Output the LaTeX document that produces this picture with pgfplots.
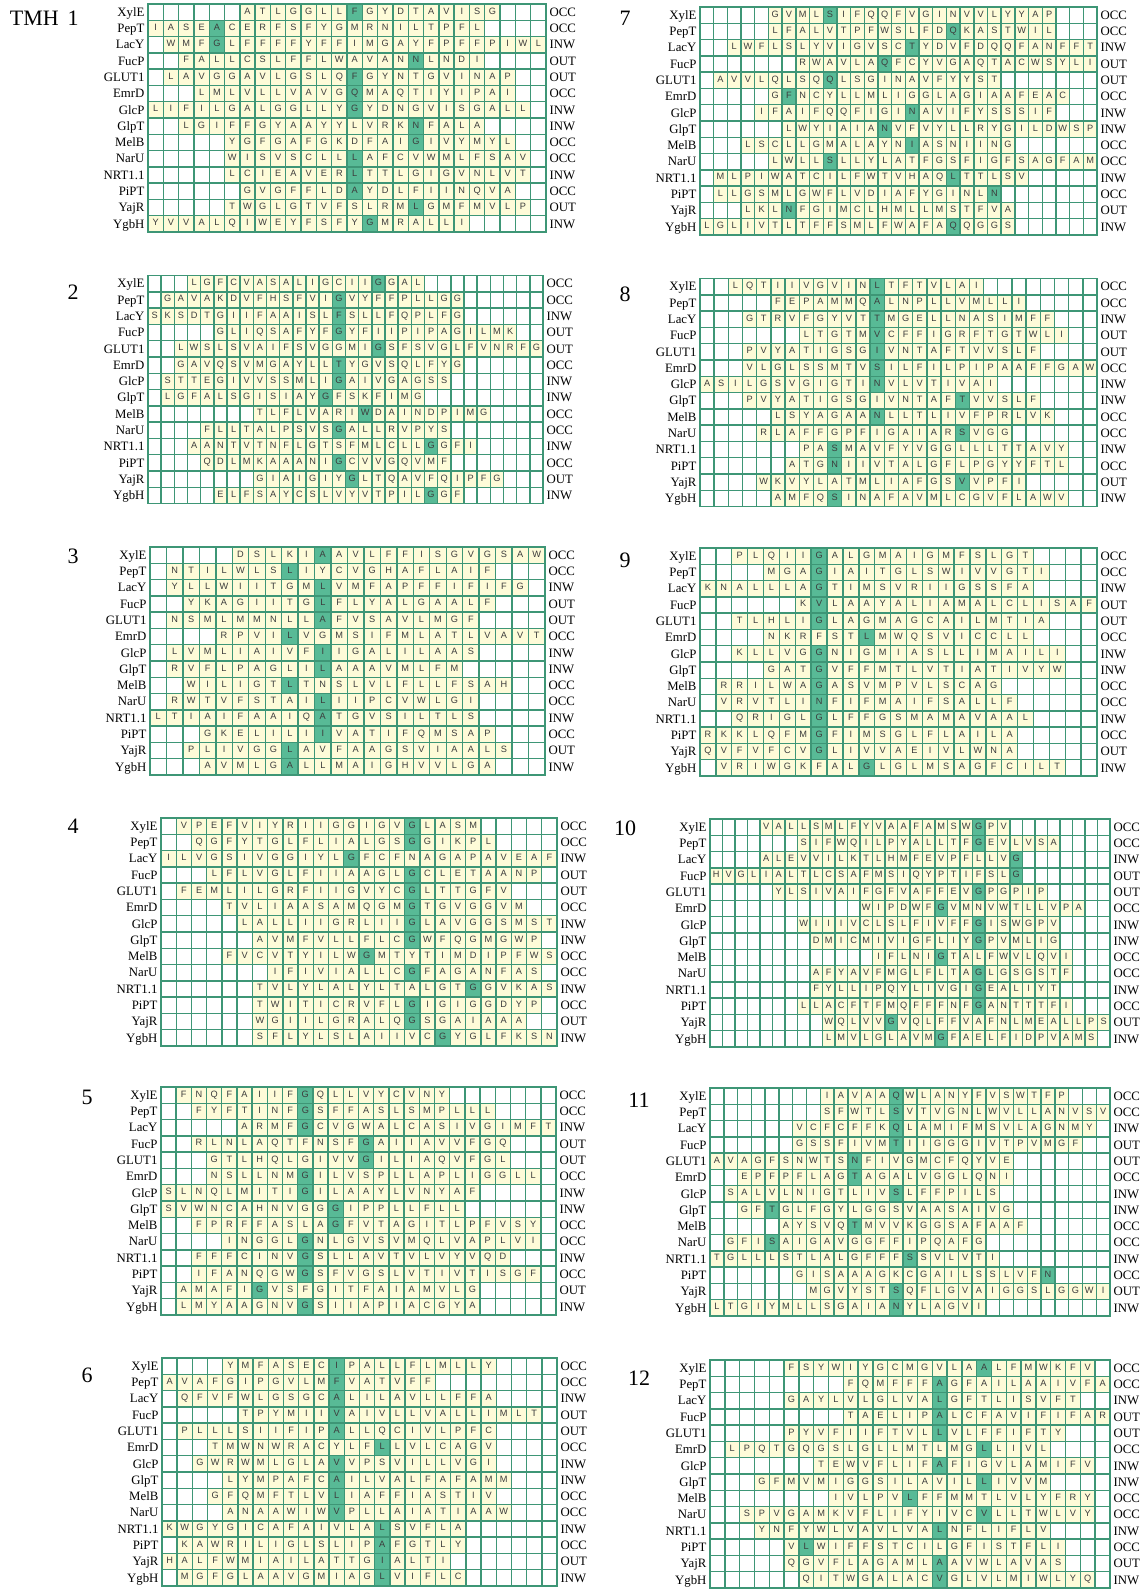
\documentclass[border=0pt]{standalone}
\usepackage{fontspec}
\setmainfont{Liberation Serif}
\newfontfamily\cellfam{Liberation Sans}
\usepackage{pgfplots}
\usepackage{pgfplotstable}
\pgfplotsset{compat=1.18}
\definecolor{cream}{RGB}{254,251,216}
\definecolor{gcell}{RGB}{88,186,150}
\definecolor{gline}{RGB}{62,150,118}
\definecolor{lett}{RGB}{60,60,60}
\newcommand\cellfont{\cellfam\fontsize{4.6pt}{5pt}\selectfont}
\newcommand\labfont{\fontsize{6.4pt}{7pt}\selectfont}
\newcommand\ttlfont{\fontsize{11pt}{13pt}\selectfont}
\def\spread#1{\ifx\relax#1\else\makebox[\cw pt][c]{#1}\expandafter\spread\fi}
\newcommand\letters{\edef\tmpseq{\pgfplotspointmeta}\smash{\raisebox{-1.65pt}{\expandafter\spread\tmpseq\relax}}}

\pgfplotstableread{
r s e g seq
1 7 23 14 ATLGGLLFGYDTAVISG
2 1 22 5 IASEACERFSFYGMRNILTPFL
3 2 26 5 WMFGLFFFFYFFIMGAYFPFFPIWL
4 3 22 18 FALLCSLFFLWAVANNLNDI
5 2 24 14 LAVGGAVLGSLQFGYNTGVINAP
6 4 24 14 LMLVLLVAVGQMAQTIYIPAI
7 1 25 14 LIFILGALGGLLYGYDNGVISGALL
8 3 22 18 LGIFFGYAAYYLVRKNFALA
9 6 24 18 YGFGAFGKDFAIGIVYMYL
10 6 25 14 WISVSCLLLAFCVWMLFSAV
11 6 25 14 LCIEAVERLTTLGIGVNLVT
12 7 24 14 GVGFFLDAYDLFIINQVA
13 6 25 18 TWGLGTVFSLRMLGMFMVLP
14 1 21 15 YVVALQIWEYFSFYGMRALLI
}\tabA
\pgfplotstableread{
r s e g seq
1 4 21 18 LGFCVASALIGCIIGGAL
2 2 24 15 GAVAKDVFHSFVIGVYFFPLLGG
3 1 24 15 SKSDTGIIFAAISLFSLLFQPLFG
4 6 28 15 GLIQSAFYFGYFIIPIPAGILMK
5 3 30 18 LWSLSVAIFSVGGMIGSFSVGLFVNRFG
6 3 24 15 GAVQSVMGAYLLTYGVSQLFYG
7 2 23 15 STTEGIVVSSMLIGAIVGAGSS
8 2 21 14 LGFALSGISIAYGFSKFIMG
9 9 26 17 TLFLVARIWDAINDPIMG
10 5 23 15 FLLTALPSVSGALLRVPYS
11 4 25 22 AANTVTNFLGTSFMLCLLGGFI
12 5 23 15 QDLMKAAANIGCVVGQVMF
13 9 27 16 GIAIGIYGLTQAVFQIPFG
14 6 24 22 ELFSAYCSLVYVTPILGGF
}\tabB
\pgfplotstableread{
r s e g seq
1 6 24 11 DSLKIAAVLFFISGVGSAW
2 2 21 9 NTILWLSLIYCVGHAFLAIF
3 2 23 11 YLLWIITGMLVMFAPFFIFIFG
4 3 21 11 YKAGIITGLFLYALGAALF
5 2 20 11 NSMLMMNLLAFVSAVLMGF
6 5 24 9 RPVILVGMSIFMLATLVAVT
7 2 20 11 LVMLIAIVFIIGALILAAS
8 2 19 11 RVFLPAGLILAAAVMLFM
9 3 22 9 WILIGTLTNSLVLFLLFSAH
10 2 20 11 RWTVFSTAILIIPCVWLGI
11 1 20 11 LTIAIFAAIQATGVSILTLS
12 4 21 11 GKELILIIVATIFQMSAP
13 3 22 9 PLIVGGLAVFAAGSVIAALS
14 4 21 9 AVMLGALLMAIGHVVLGA
}\tabC
\pgfplotstableread{
r s e g seq
1 2 21 17 VPEFVIYRIIGGIGVGLASM
2 3 22 17 QGFYTGLFLIALGSGGIKPL
3 1 26 13 ILVGSIVGGIYLGFCFNAGAPAVEAF
4 4 25 17 LFLVGLFIIAAGLGCLETAANP
5 2 23 17 FEMLILGRFIIGVYCGLTTGFV
6 5 24 17 TVLIAASAMQGMGTGVGGVM
7 6 26 17 LALLIIGRLIIGLAVGGSMST
8 7 25 17 AVMFVLLFLCGWFQGMGWP
9 5 26 14 FVCVTYILWGMTYTIMDIPFWS
10 8 25 17 IFIVIALLCGFAGANFAS
11 7 26 21 TVLYLALYLTALGTGGVKAS
12 7 25 17 TWITICRVFLGIGIGGDYP
13 7 24 17 WGIILGRALQGSGAIAAA
14 7 26 19 SFLYLSLAIIVCGYGLFKSN
}\tabD
\pgfplotstableread{
r s e g seq
1 2 19 10 FNQFAIIFGQLLVYCVNY
2 3 22 10 FYFTINFGSFFASLSMPLLL
3 6 26 10 ARMFGCVGWALCASIVGIMFT
4 3 23 14 RLNLAQTFNSFGAIIAVVFGQ
5 4 23 14 GTLHQLGIVVGILIAQVFGL
6 4 25 10 NSLLNMGILVSPLLAPLIGGLL
7 1 21 10 SLNQLMITIGILAAYLVNYAF
8 1 20 12 SVWNCAHNVGGGIPPLLFLL
9 3 25 12 FPRFFASLAGFVTAGITLPFVSY
10 5 25 10 INGGLGNLGVSVMQLVAPLVI
11 3 23 10 FFFCINVGSLLAVTVLVYVQD
12 3 25 10 IFANQGWGSFVGSLVTIVTISGF
13 2 21 7 AMAFIGVSFGITFAIAMVLG
14 2 21 10 LMYAAGNVGSIIAPIACGYA
}\tabE
\pgfplotstableread{
r s e g seq
1 5 22 12 YMFASECIPALLFLMLLY
2 1 18 12 AVAFGIPGVLMFVATVFF
3 2 22 12 QFVFWLGSGCALILAVLLFFA
4 6 25 12 TPYMIIVAIVLLVALLIMLT
5 2 22 12 PLLLSIIFIPALLQCIVLPFC
6 4 22 15 TMWNWRACYLFLLVLCAGV
7 3 22 12 GWRWMLGLAVVPSVILLVGI
8 5 23 12 LYMPAFCAILVALFAFAMM
9 4 22 12 GFQMFTLVLIAFFIASTIV
10 5 23 12 ANAAWIWVPLLAIATIAAW
11 1 20 15 KWGYGICAFAIVLALSVFLA
12 2 20 15 KAWRILIGLSLIPAFGTLY
13 1 19 15 HALFWMIAILATTGIALTI
14 2 20 15 MGFGLAAVGMIAGLVIFLC
}\tabF
\pgfplotstableread{
r s e g seq
1 6 26 10 GVMLSIFQQFVGINVVLYYAP
2 6 26 19 LFALVTPFWSLFDQKASTWIL
3 3 29 16 LWFLSLYVIGVSCTYDVFDQQFANFFT
4 8 29 14 RWAVLAQFCYVGAQTACWSYLI
5 2 22 10 AVVLQLSQQLSGINAVFYYST
6 6 27 7 GFNCYLLMLIGGLAGIAAFEAC
7 5 26 16 IFAIFQQFIGINAVIFYSSSIF
8 7 29 14 LWYIAIANVFVYLLRYGILDWSP
9 4 23 16 LSCLLGMALAYNIASNIING
10 6 29 10 LWLLSLLYLATFGSFIGFSAGFAM
11 2 24 19 MLPIWATCILFWTVHAQLTTLSV
12 2 22 22 LLGSMLGWFLVDIAFYGINLN
13 4 23 7 LKLNFGIMCLHMLLMSTFVA
14 1 23 19 LGLIVTLTFFSMLFWAFAQQGGS
}\tabG
\pgfplotstableread{
r s e g seq
1 3 20 13 LQTIIVGVINLTFTVLAI
2 6 23 13 FEPAMMQALNPLLVMLLI
3 4 25 13 GTRVFGYVTTMGELLNASIMFF
4 8 26 13 LTGTMVCFFIGRFTGTWLI
5 4 24 13 PVYATIGSGIVNTAFTVVSLF
6 4 28 13 VLGLSSMTVSILFILPIPAAFFGAW
7 1 21 13 ASILGSVGIGTINVLVTIVAI
8 4 24 19 PVYATIGSGIVNTAFTVVSLF
9 6 25 13 LSYAGAANLLTLIVFPRLVK
10 5 22 19 RLAFFGPFIGAIARSVGG
11 8 26 10 PASMAVFYVGGLLLTTAVY
12 7 26 10 ATGNIIVTALGFLPGYYFTL
13 5 23 19 WKVYLATMLIAFGSVVPFI
14 6 26 10 AMFQSINAFAVMLCGVFLAWV
}\tabH
\pgfplotstableread{
r s e g seq
1 3 21 8 PLQIIGALGMAIGMFSLGT
2 5 22 8 MGAGIAITGLSWIVVGTI
3 1 21 8 KNALLLAGTIMSVRIIGSSFA
4 7 25 8 KVLAAYALIAMALCLISAF
5 3 22 8 TLHLIGLAGMAGCAILMTIA
6 5 21 11 NKRFSTLMWQSVICCLL
7 3 23 8 KLLVGGNIGMIASLLIMAILI
8 5 23 8 GATGVFFMTLVTIATIVYW
9 2 19 8 RRILWAGASVMPVLSCAG
10 2 20 8 VRVTLINFIFMAIFSALLF
11 3 21 8 QRIGLGLFFGSMAMAVAAL
12 1 20 8 RKKLQFMGFIMSGLFLAILA
13 1 20 8 QVFVFCVGLIVVAEIVLWNA
14 2 23 11 VRIWGKFALGLGLMSAGFCILT
}\tabI
\pgfplotstableread{
r s e g seq
1 5 24 22 VALLSMLFYVAAFAMSWGPV
2 8 28 22 SIFWQILPYALLTFGEVLVSA
3 5 25 25 ALEVVILKTLHMFEVPFLLVG
4 1 25 25 HVGLIALTLCSAFMSIQYPTIFSLG
5 6 27 22 YLSIVAIFGFVAFFEVGPGPIP
6 13 30 19 WIPDWFGVMNVWTLLVPA
7 8 28 22 WIIIVCLSLFIVFFGISWGPV
8 9 28 22 DMICMIVIGFLIYGPVMLIG
9 14 29 19 IFLNIGTALFWVLQVI
10 9 29 22 AFYAVFMGLFLTAGLGSGSTF
11 9 28 22 FYLLIPQYLIVGIGEALIYT
12 8 29 22 LLACFTFMQFFFNFGANTTTFI
13 10 32 15 WQLVVGVQLFFVAFNLMEALLPS
14 10 31 19 LMVLGLAVMGFAELFIDPVAMS
}\tabJ
\pgfplotstableread{
r s e g seq
1 9 26 14 IAVAAQWLANYFVSWTFP
2 9 29 14 SFWTLSVTVGNLWVLLANVSV
3 7 28 14 VCFCFFKQLAMIFMSVLAGNMY
4 7 27 14 GSSFIVMTIIGGGIVTPVMGF
5 1 22 11 AVAGFSNWTSNFIVGMCFQYVE
6 3 22 11 EPFPFLAGTAGALVGGLQNI
7 2 21 14 SALVLNIGTLIVSLFFPILS
8 3 22 5 GFTGLFGYLGGSVAASAIVG
9 6 23 11 AYSVQTMVVKGGSAFAAF
10 2 20 5 GFISAIGAVGGFFIPQAFG
11 1 21 15 TGLLLSTLALGFFFSSVLVTI
12 7 25 25 GISAAAGKCGAILSSLVFN
13 8 29 14 MGVYSTSQFLGVAIGGSLGGWI
14 1 20 14 LTGIYMLLSGAIANYLAGVI
}\tabK
\pgfplotstableread{
r s e g seq
1 6 26 19 FSYWIYGCMGVLAALFMWKFV
2 10 27 16 FQMFFFAGFAILAAIVFA
3 6 25 16 GAYLVLGLVALGFTLISVFT
4 10 27 16 TAELIPALCFAVIFIFAR
5 6 24 16 PYVFIIFTVLLVLFFIFTY
6 2 23 19 LPQTGQGSLGLLMTLMGLLIVL
7 8 26 16 TEWVFLIFAFIGVLAMIFV
8 4 23 19 GFMVMIGGSILAVILLIVVM
9 9 26 14 IVLPVLFFMMTLVLYFRY
10 3 26 19 SPVGAMKVFLIFYIVCVLLTWLVY
11 4 23 16 YNFYWLVAVLVALNFLIFLV
12 6 24 7 VLWIFFSTCILGFISTFLI
13 6 24 16 QGVFLAGAMLAAVWLAVAS
14 7 26 16 QITWGALACVGLVLMIWLYQ
}\tabL

\pgfplotsset{
  grp/.style={scale only axis, anchor=north west, height=114pt,
    xmin=0.5, ymin=0.5, ymax=14.5, y dir=reverse, axis on top,
    ytick={1,...,14}, major tick length=0pt, minor tick length=0pt,
    xticklabels={},
    yticklabel style={font=\labfont, inner sep=1.6pt, text height=4.2pt, text depth=0pt},
    axis line style={draw=gline, line width=0.7pt},
    major grid style={draw=gline, line width=0.7pt},
    minor grid style={draw=gline, line width=0.7pt}},
}

\newcommand\panel[5]{%
\pgfmathsetmacro\cw{#3/#4}%
\pgfmathsetmacro\xmx{#4+0.5}%
\pgfmathsetmacro\xlast{#4-0.5}%
\begin{axis}[grp, at={(#1pt,-#2pt)}, width=#3pt, xmax=\xmx,
  xtick={1.5,2.5,...,\xlast}, xmajorgrids, minor ytick={1.5,2.5,...,13.5}, yminorgrids,
  xbar stacked, bar width=1,
  yticklabels={XylE,PepT,LacY,FucP,GLUT1,EmrD,GlcP,GlpT,MelB,NarU,NRT1.1,PiPT,YajR,YgbH}]
\addplot[draw=none,fill=none] table[x expr=\thisrow{s}-0.5,y=r]{#5};
\addplot[draw=none,fill=cream] table[x expr=\thisrow{g}-\thisrow{s},y=r]{#5};
\addplot[draw=none,fill=gcell] table[x expr=1,y=r]{#5};
\addplot[draw=none,fill=cream] table[x expr=\thisrow{e}-\thisrow{g},y=r]{#5};
\end{axis}
\begin{axis}[grp, at={(#1pt,-#2pt)}, width=#3pt, xmax=\xmx, xtick=\empty,
  axis line style={draw=none}, yticklabel pos=right,
  yticklabels={OCC,OCC,INW,OUT,OUT,OCC,INW,INW,OCC,OCC,INW,OCC,OUT,INW}]
\addplot[draw=none, point meta=explicit symbolic, nodes near coords={\letters},
  every node near coord/.append style={inner sep=0pt, font=\cellfont, text=lett}]
  table[x expr=(\thisrow{s}+\thisrow{e})/2, y=r, meta=seq]{#5};
\end{axis}}

\begin{document}
\begin{tikzpicture}
\useasboundingbox (0,0) rectangle (573pt,-794.5pt);
\panel{74}{2}{199}{26}{\tabA}
\panel{74}{137.8}{197.5}{30}{\tabB}
\panel{75}{273.5}{197.5}{24}{\tabC}
\panel{80.5}{409}{198}{26}{\tabD}
\panel{80.5}{543.5}{197.5}{26}{\tabE}
\panel{81}{679}{197.5}{26}{\tabF}
\panel{350}{3.5}{198.5}{29}{\tabG}
\panel{350}{139.3}{198.5}{28}{\tabH}
\panel{350}{274}{198.5}{25}{\tabI}
\panel{355}{409.5}{200}{32}{\tabJ}
\panel{355}{544}{200}{29}{\tabK}
\panel{355}{680}{200}{27}{\tabL}
\node[font=\ttlfont] at (17.2pt,-9pt) {TMH};
\node[font=\ttlfont] at (36.5pt,-9pt) {1};
\node[font=\ttlfont] at (36.5pt,-146pt) {2};
\node[font=\ttlfont] at (36.5pt,-278pt) {3};
\node[font=\ttlfont] at (36.5pt,-413pt) {4};
\node[font=\ttlfont] at (43.5pt,-548.5pt) {5};
\node[font=\ttlfont] at (43.5pt,-687.5pt) {6};
\node[font=\ttlfont] at (312.5pt,-9pt) {7};
\node[font=\ttlfont] at (312.5pt,-147pt) {8};
\node[font=\ttlfont] at (312.5pt,-280pt) {9};
\node[font=\ttlfont] at (312.5pt,-414pt) {10};
\node[font=\ttlfont] at (319.5pt,-550pt) {11};
\node[font=\ttlfont] at (319.5pt,-689pt) {12};
\end{tikzpicture}
\end{document}
